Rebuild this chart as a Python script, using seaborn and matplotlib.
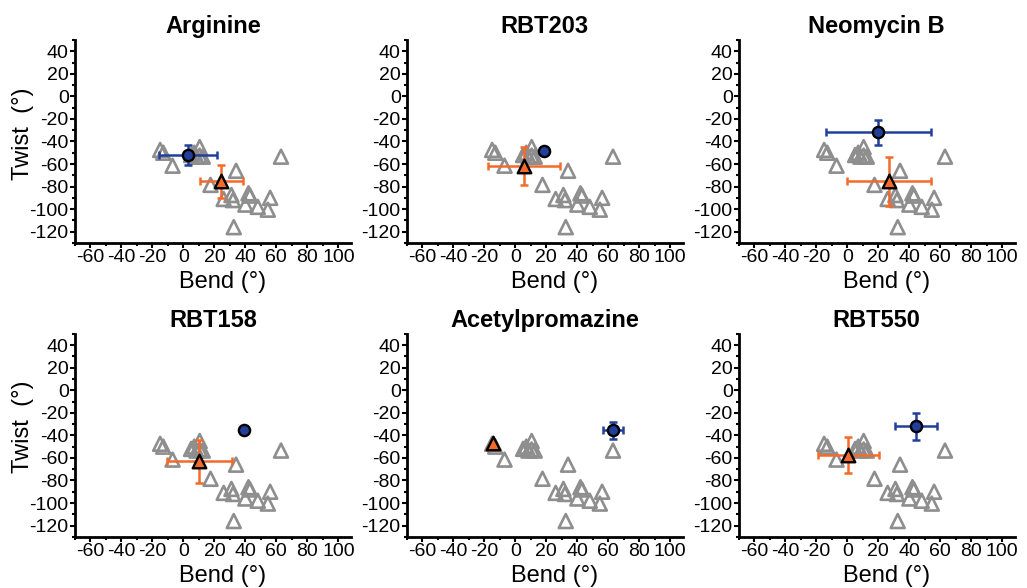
import numpy as np
import pandas as pd
import seaborn as sns
import matplotlib
matplotlib.use("Agg")
import matplotlib.pyplot as plt
from matplotlib.ticker import MultipleLocator

# reference structures (open gray triangles, same in every panel)
ref_bend = [-15, -13, -7, 5, 7, 8.5, 10.5, 10.5, 12.5, 63, 34, 17.5, 26, 31, 32, 42, 43, 40, 48, 56, 54.5, 32.5]
ref_twist = [-47.5, -50, -61.5, -52, -50, -53.5, -45, -52.5, -53.5, -53.5, -66, -78.5, -91, -87.5, -92, -86, -88, -96, -98, -90, -100.5, -116]

compounds = ['Arginine', 'RBT203', 'Neomycin B', 'RBT158', 'Acetylpromazine', 'RBT550']

# blue circles (mean +/- sd)
circle_bend = [3, 18.5, 20, 39, 63, 44.3]
circle_twist = [-52, -48.5, -32, -35, -35.5, -32]
circle_bend_err = [19, 0, 34, 0, 6.5, 13.3]
circle_twist_err = [8.5, 0, 11.3, 0, 7.5, 12.2]

# orange triangles (mean +/- sd)
tri_bend = [24.5, 5.5, 26.7, 10.2, -14.7, 0.7]
tri_twist = [-75.5, -61.5, -75.3, -63, -47, -57.3]
tri_bend_err = [14, 23.3, 27, 21, 0, 19.7]
tri_twist_err = [14.8, 17, 21.7, 19, 0, 16]

gray = '#8e8e8e'
blue = '#22409a'
orange = '#f26b2b'

sns.set_style('ticks', {'axes.edgecolor': 'black', 'xtick.color': 'black', 'ytick.color': 'black',
                        'text.color': 'black', 'axes.labelcolor': 'black'})
plt.rcParams['font.family'] = ['Liberation Sans', 'DejaVu Sans']
plt.rcParams['axes.unicode_minus'] = False

ref_df = pd.DataFrame({'bend': ref_bend, 'twist': ref_twist})

fig, axes = plt.subplots(2, 3, figsize=(10.27, 5.88), dpi=100)
fig.subplots_adjust(left=0.073, right=0.988, top=0.932, bottom=0.087, wspace=0.204, hspace=0.448)

for i, ax in enumerate(axes.flat):
    sns.scatterplot(data=ref_df, x='bend', y='twist', ax=ax, marker='^', s=100,
                    facecolor='none', edgecolor=gray, linewidth=1.9, zorder=2)

    ax.errorbar(tri_bend[i], tri_twist[i], xerr=tri_bend_err[i], yerr=tri_twist_err[i],
                fmt='none', ecolor=orange, elinewidth=1.8, capsize=2.6, capthick=1.8, zorder=3)
    ax.errorbar(circle_bend[i], circle_twist[i], xerr=circle_bend_err[i], yerr=circle_twist_err[i],
                fmt='none', ecolor=blue, elinewidth=1.8, capsize=2.6, capthick=1.8, zorder=3)

    sns.scatterplot(x=[tri_bend[i]], y=[tri_twist[i]], ax=ax, marker='^', s=95,
                    color=orange, edgecolor='black', linewidth=1.7, zorder=4)
    sns.scatterplot(x=[circle_bend[i]], y=[circle_twist[i]], ax=ax, marker='o', s=65,
                    color=blue, edgecolor='black', linewidth=1.7, zorder=4)

    ax.set_xlim(-70, 108)
    ax.set_ylim(-130, 50)
    ax.xaxis.set_minor_locator(MultipleLocator(10))
    ax.yaxis.set_minor_locator(MultipleLocator(10))
    ax.set_xticks(np.arange(-60, 101, 20))
    ax.set_yticks(np.arange(-120, 41, 20))
    ax.tick_params(axis='both', which='major', labelsize=14, length=3.5, width=1.5, pad=1,
                   colors='black')
    ax.tick_params(axis='both', which='minor', length=2.5, width=1.5, colors='black')
    for side in ['left', 'bottom']:
        ax.spines[side].set_linewidth(2)
        ax.spines[side].set_color('black')
    sns.despine(ax=ax)

    ax.set_title(compounds[i], fontsize=17, fontweight='bold', pad=5, color='black')
    ax.set_xlabel('Bend (°)', fontsize=17, color='black')
    ax.xaxis.set_label_coords(0.537, -0.14)
    if i % 3 == 0:
        ax.set_ylabel('Twist  (°)', fontsize=17, color='black')
        ax.yaxis.set_label_coords(-0.15, 0.54)
    else:
        ax.set_ylabel('')

fig.savefig('out.png', dpi=100)
